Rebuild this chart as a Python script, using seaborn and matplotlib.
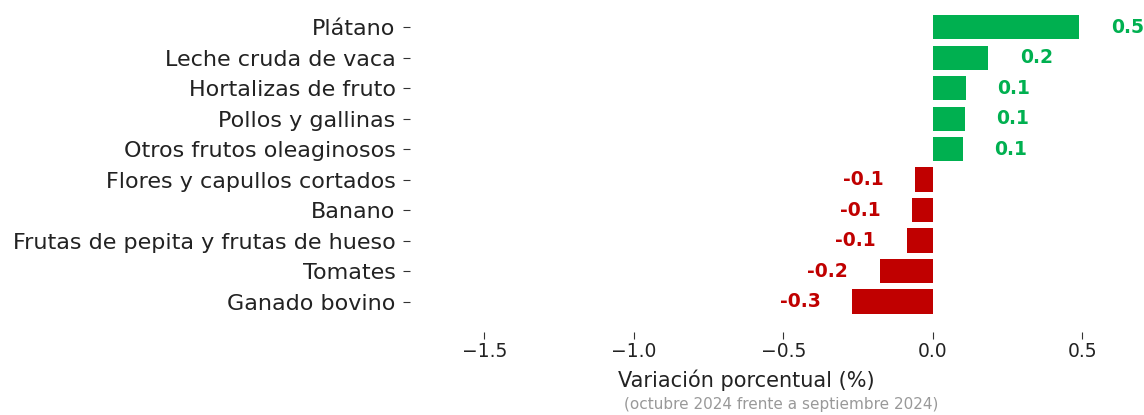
import pandas as pd
import numpy as np

import matplotlib.pyplot as plt
import seaborn as sns

# datos: variacion porcentual octubre 2024 vs septiembre 2024
productos = ['Plátano', 'Leche cruda de vaca', 'Hortalizas de fruto', 'Pollos y gallinas',
             'Otros frutos oleaginosos', 'Flores y capullos cortados', 'Banano',
             'Frutas de pepita y frutas de hueso', 'Tomates', 'Ganado bovino']
variacion = [0.49, 0.186, 0.112, 0.108, 0.100, -0.058, -0.068, -0.087, -0.178, -0.270]
etiquetas = ['0.5', '0.2', '0.1', '0.1', '0.1', '-0.1', '-0.1', '-0.1', '-0.2', '-0.3']
ticks_x = [-1.5, -1.0, -0.5, 0.0, 0.5]

verde = '#00B050'
rojo = '#C00000'

df = pd.DataFrame({'Producto': productos, 'Variacion': variacion, 'Etiqueta': etiquetas})
df['Signo'] = np.where(df['Variacion'] >= 0, 'pos', 'neg')

sns.set_style('white')
plt.rcParams['font.family'] = ['DejaVu Sans']

fig = plt.figure(figsize=(11.44, 4.15), dpi=100)
ax = fig.add_axes([0.358, 0.2, 0.588, 0.771])

sns.barplot(data=df, y='Producto', x='Variacion', hue='Signo', dodge=False,
            palette={'pos': verde, 'neg': rojo}, width=0.8, saturation=1,
            linewidth=0, edgecolor='none', legend=False, ax=ax)

# etiquetas de valor
for i, row in df.iterrows():
    if row['Variacion'] >= 0:
        ax.text(row['Variacion'] + 0.105, i, row['Etiqueta'], color=verde, fontsize=13.5,
                fontweight='bold', ha='left', va='center', clip_on=False)
    else:
        ax.text(row['Variacion'] - 0.105, i, row['Etiqueta'], color=rojo, fontsize=13.5,
                fontweight='bold', ha='right', va='center', clip_on=False)

ax.set_xlim(-1.75, 0.5)
ax.set_ylim(10.0, -0.5)
ax.set_xticks(ticks_x)
ax.set_xticklabels([f'{t:.1f}'.replace('-', '\u2212') for t in ticks_x])
for s in ax.spines.values():
    s.set_visible(False)
ax.tick_params(axis='both', which='both', length=5, width=0.8, color='#333333',
               labelcolor='#222222')
ax.tick_params(axis='x', bottom=True, labelsize=13.5, pad=2)
ax.tick_params(axis='y', left=True, labelsize=16, pad=5)
ax.set_ylabel('')
ax.set_xlabel('Variación porcentual (%)', fontsize=15, color='#222222', labelpad=6)
fig.text(0.683, 0.008, '(octubre 2024 frente a septiembre 2024)', fontsize=11,
         color='#999999', ha='center', va='bottom')

plt.savefig('out.png', dpi=100)
